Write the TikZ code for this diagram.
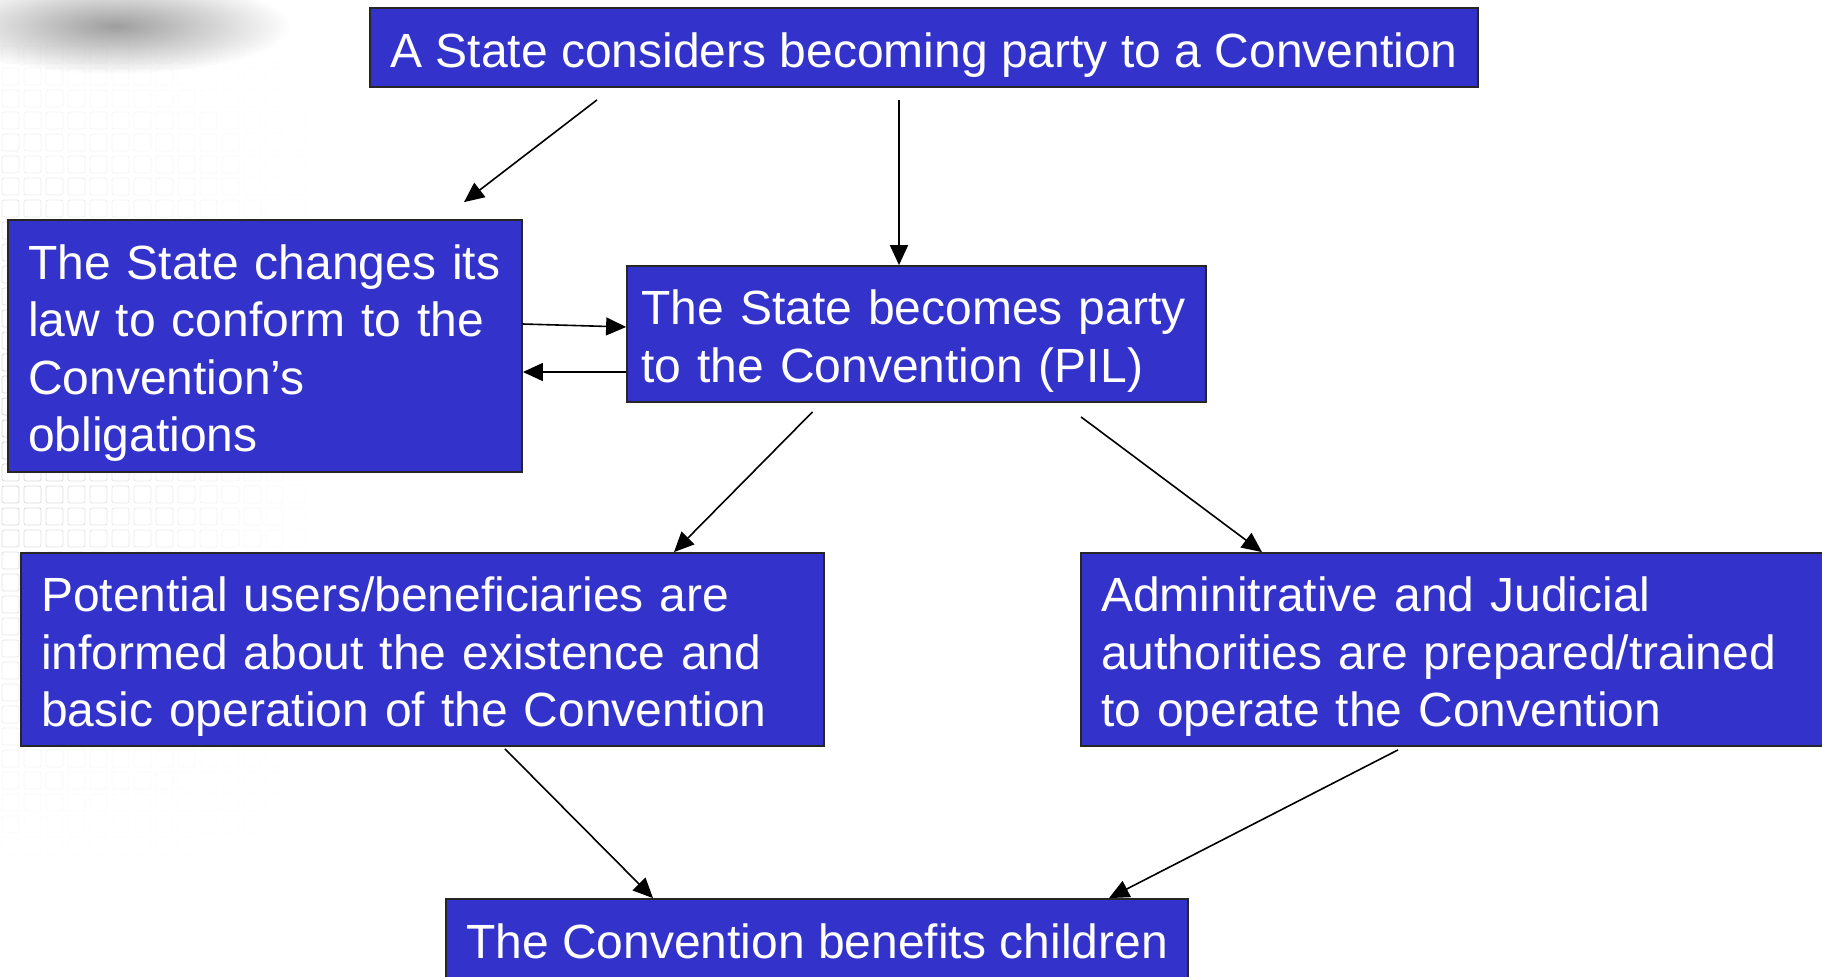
\documentclass[tikz,border=0pt]{standalone}
\usepackage{fontspec}
\setmainfont{Liberation Sans}
\usetikzlibrary{arrows.meta}
\definecolor{boxblue}{RGB}{51,51,204}

\begin{document}
\begin{tikzpicture}[x=0.5pt, y=-0.5pt, >={Triangle[length=10pt,width=9pt]},
    stepbox/.style = {draw=black!85, line width=0.9pt, fill=boxblue, text=white, inner xsep=10pt, inner ysep=0pt, font=\fontsize{24}{28.6}\selectfont},
    lowtext/.style = {execute at begin node={\rule{0pt}{24.5pt}}},
    textbox/.style = {stepbox, lowtext, align=left, text width=#1},
    link/.style = {->, line width=0.8pt}]
    \useasboundingbox (0,0) rectangle (1822,976);
    \clip (0,0) rectangle (1822,976);
    % background
    \shade[inner color=black!38, outer color=white] (115,26) ellipse [x radius=88pt, y radius=24pt];
    \foreach \i in {0,...,13}
      \foreach \j in {2,...,38} {
        \pgfmathsetmacro\op{max(0,0.3*(1-\i/14)*(1-abs(\j-19)/20))}
        \draw[black!60, line width=0.4pt, opacity=\op, rounded corners=1pt] (\i*22+2,\j*22+2) rectangle ++(17,17);
      }
    % boxes
    \node[stepbox, lowtext, minimum width=554pt, minimum height=39.5pt] (consider) at (924,47.5) {A State considers becoming party to a Convention};
    \node[textbox=237pt, minimum height=126pt] (changes) at (265,346) {The State changes its\\law to conform to the\\Convention's\\obligations};
    \node[textbox=275pt, inner xsep=7.25pt, minimum height=68pt] (party) at (916.5,334) {The State becomes party\\to the Convention (PIL)};
    \node[textbox=381.5pt, minimum height=96.5pt] (users) at (422.5,649.5) {Potential users/beneficiaries are\\informed about the existence and\\basic operation of the Convention};
    \node[textbox=354.5pt, minimum height=96.5pt] (admin) at (1455.5,649.5) {Adminitrative and Judicial\\authorities are prepared/trained\\to operate the Convention};
    \node[stepbox, minimum width=371pt, minimum height=42pt] (benefit) at (817,941) {The Convention benefits children};
    % arrows
    \draw[link] ([xshift=-163.5pt,yshift=-6pt]consider.south) -- ([xshift=99.5pt,yshift=8.5pt]changes.north);
    \draw[link] ([xshift=-12.5pt,yshift=-6pt]consider.south) -- ([xshift=-8.75pt]party.north);
    \draw[link] ([yshift=11pt]changes.east) -- ([yshift=3.5pt]party.west);
    \draw[link] ([yshift=-19pt]party.west) -- ([yshift=-13pt]changes.east);
    \draw[link] ([xshift=-52pt,yshift=-4.5pt]party.south) -- ([xshift=125.75pt]users.north);
    \draw[link] ([xshift=82.25pt,yshift=-7pt]party.south) -- ([xshift=-96.75pt]admin.north);
    \draw[link] ([xshift=41.25pt,yshift=-1pt]users.south) -- ([xshift=-82pt]benefit.north);
    \draw[link] ([xshift=-28.75pt,yshift=-1.5pt]admin.south) -- ([xshift=146pt]benefit.north);
\end{tikzpicture}
\end{document}
